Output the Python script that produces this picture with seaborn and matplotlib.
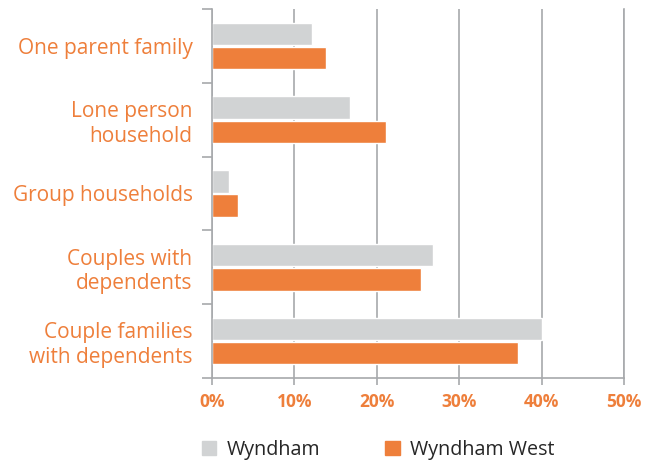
import seaborn as sns
import matplotlib.pyplot as plt
import matplotlib.patches as mpatches
import pandas as pd
import numpy as np

categories = ['One parent family', 'Lone person\nhousehold', 'Group households',
              'Couples with\ndependents', 'Couple families\nwith dependents']
wyndham = [12.1, 16.7, 2.1, 26.8, 40.0]
wyndham_west = [13.8, 21.1, 3.1, 25.4, 37.1]
series = ['Wyndham', 'Wyndham West']
xticks = [0, 10, 20, 30, 40, 50]

orange = '#ee7f3b'
grey_bar = '#d1d3d4'
grid_col = '#a7a9ac'

df = pd.DataFrame({
    'cat': categories * 2,
    'pct': wyndham + wyndham_west,
    'area': [series[0]] * len(categories) + [series[1]] * len(categories),
})

sns.set_style('white')
plt.rcParams['font.family'] = ['Open Sans', 'DejaVu Sans']

fig = plt.figure(figsize=(6.63, 4.70), dpi=100)
ax = fig.add_axes([0.3198, 0.1964, 0.6214, 0.7838])

sns.barplot(data=df, y='cat', x='pct', hue='area', orient='h', ax=ax,
            palette=[grey_bar, orange], width=0.66, gap=0.08,
            legend=False, saturation=1)

ax.set_xlim(0, 50)
ax.set_ylim(len(categories) - 0.5, -0.5)
ax.set_xlabel('')
ax.set_ylabel('')

# vertical gridlines
ax.set_xticks(xticks)
ax.set_xticklabels([f'{t}%' for t in xticks], color=orange, fontsize=12.5,
                   fontweight='bold')
ax.grid(axis='x', color=grid_col, linewidth=1.2)
ax.set_axisbelow(True)
ax.tick_params(axis='x', bottom=True, length=5, width=1.2, color=grid_col, pad=6)

# category labels at centres, tick marks at boundaries
ax.set_yticks(np.arange(len(categories)))
ax.set_yticklabels(categories, color=orange, fontsize=15, linespacing=1.2)
ax.set_yticks(np.arange(len(categories) + 1) - 0.5, minor=True)
ax.tick_params(axis='y', which='major', left=True, length=0, pad=14)
ax.tick_params(axis='y', which='minor', left=True, length=7, width=1.2, color=grid_col)

for side in ['left', 'bottom', 'right']:
    ax.spines[side].set_color(grid_col)
    ax.spines[side].set_linewidth(1.2)
ax.spines['top'].set_visible(False)

handles = [mpatches.Patch(color=grey_bar, label=series[0]),
           mpatches.Patch(color=orange, label=series[1])]
fig.legend(handles=handles, loc='center', bbox_to_anchor=(0.57, 0.043), ncol=2,
           frameon=False, fontsize=14.2, handlelength=0.75, handleheight=0.75,
           handletextpad=0.5, columnspacing=3.3)

fig.savefig('out.png', dpi=100)
